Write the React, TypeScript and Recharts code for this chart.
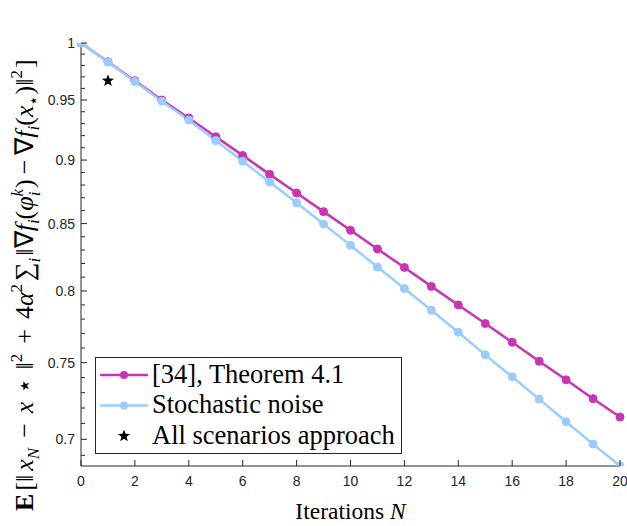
import React from 'react';
import { ComposedChart, Line, XAxis, YAxis } from 'recharts';

// iterations N on the x axis
const iterations = [0, 1, 2, 3, 4, 5, 6, 7, 8, 9, 10, 11, 12, 13, 14, 15, 16, 17, 18, 19, 20];
// [34], Theorem 4.1
const theoremBound = [
  1, 0.9833, 0.9666, 0.95, 0.9347, 0.9191, 0.9038, 0.8885, 0.8737, 0.8592, 0.8449,
  0.8308, 0.8171, 0.8033, 0.79, 0.7769, 0.7639, 0.751, 0.7385, 0.7261, 0.7142,
];
// stochastic noise
const stochasticNoise = [
  1, 0.983, 0.966, 0.949, 0.933, 0.9159, 0.899, 0.8824, 0.8661, 0.8497, 0.8335,
  0.8174, 0.8017, 0.7862, 0.7708, 0.7553, 0.7405, 0.7258, 0.7112, 0.697, 0.6834,
];
// all scenarios approach (single point)
const scenarioN = [1];
const scenarioValue = [0.9666];

const xTicks = [0, 2, 4, 6, 8, 10, 12, 14, 16, 18, 20];
const yMajorTicks = [0.7, 0.75, 0.8, 0.85, 0.9, 0.95, 1];
const yMinorTicks = [
  0.69, 0.71, 0.72, 0.73, 0.74, 0.76, 0.77, 0.78, 0.79, 0.81, 0.82, 0.83, 0.84,
  0.86, 0.87, 0.88, 0.89, 0.91, 0.92, 0.93, 0.94, 0.96, 0.97, 0.98, 0.99,
];
const yDomain = [0.6834, 1];

const MAGENTA = '#c834b4';
const BLUE = '#99ccff';
const AXIS = '#262626';

const data = iterations.map((n, i) => {
  const k = scenarioN.indexOf(n);
  return {
    n,
    theorem: theoremBound[i],
    noise: stochasticNoise[i],
    scenario: k >= 0 ? scenarioValue[k] : null,
  };
});

const allYTicks = [...yMajorTicks, ...yMinorTicks].sort((a, b) => a - b);
const isMajor = (v: number) => yMajorTicks.some(t => Math.abs(t - v) < 1e-9);

const starPath = (cx: number, cy: number, R: number, r: number) => {
  let d = '';
  for (let i = 0; i < 10; i++) {
    const rad = i % 2 === 0 ? R : r;
    const a = -Math.PI / 2 + (i * Math.PI) / 5;
    d += (i === 0 ? 'M' : 'L') + (cx + rad * Math.cos(a)).toFixed(2) + ',' + (cy + rad * Math.sin(a)).toFixed(2);
  }
  return d + 'Z';
};

const tickFont = { fontFamily: '"Liberation Sans", Arial, sans-serif', fontSize: 14, fill: AXIS };
const serif = "'Liberation Serif', serif";

const LeftTick = (props: any) => {
  const { x, y, payload } = props;
  const major = isMajor(payload.value);
  return (
    <g>
      <line x1={x} x2={x + (major ? 6 : 4)} y1={y} y2={y} stroke={AXIS} strokeWidth={1} />
      {major && (
        <text x={x - 6} y={y} dy={5} textAnchor="end" {...tickFont}>
          {String(payload.value)}
        </text>
      )}
    </g>
  );
};

const RightTick = (props: any) => {
  const { x, y, payload } = props;
  const major = isMajor(payload.value);
  return <line x1={x} x2={x - (major ? 6 : 4)} y1={y} y2={y} stroke={AXIS} strokeWidth={1} />;
};

const BottomTick = (props: any) => {
  const { x, y, payload } = props;
  return (
    <g>
      <line x1={x} x2={x} y1={y} y2={y - 6} stroke={AXIS} strokeWidth={1} />
      <text x={x} y={y + 20} textAnchor="middle" {...tickFont}>
        {String(payload.value)}
      </text>
    </g>
  );
};

const TopTick = (props: any) => {
  const { x, y } = props;
  return <line x1={x} x2={x} y1={y} y2={y + 6} stroke={AXIS} strokeWidth={1} />;
};

const StarDot = (props: any) => {
  const { cx, cy, payload, index } = props;
  if (payload.scenario == null || cx == null || cy == null) return <g key={index} />;
  return <path key={index} d={starPath(cx, cy, 6.5, 2.7)} fill="#000" />;
};

const SUB = 17;

const YLabel = () => (
  <svg width={60} height={526} style={{ position: 'absolute', left: 0, top: 0, overflow: 'visible' }}>
    <text transform="translate(33,511) rotate(-90)" fontFamily={serif} fontSize={26} fill="#000">
      <tspan fontWeight="bold">E</tspan>
      <tspan dx={3}>[‖</tspan>
      <tspan fontStyle="italic" dx={4}>x</tspan>
      <tspan fontStyle="italic" fontSize={SUB} dy={6}>N</tspan>
      <tspan dy={-6} dx={10}>−</tspan>
      <tspan fontStyle="italic" dx={10}>x</tspan>
      <tspan dx={8}>⋆</tspan>
      <tspan dx={8}>‖</tspan>
      <tspan fontSize={SUB} dy={-11}>2</tspan>
      <tspan dy={11} dx={10}>+</tspan>
      <tspan dx={10}>4</tspan>
      <tspan fontStyle="italic">α</tspan>
      <tspan fontSize={SUB} dy={-11}>2</tspan>
      <tspan dy={11} dx={3}>∑</tspan>
      <tspan fontStyle="italic" fontSize={SUB} dy={7}>i</tspan>
      <tspan dy={-7} dx={2}>‖∇</tspan>
      <tspan fontStyle="italic">f</tspan>
      <tspan fontStyle="italic" fontSize={SUB} dy={6}>i</tspan>
      <tspan dy={-6}>(</tspan>
      <tspan fontStyle="italic">φ</tspan>
      <tspan fontStyle="italic" fontSize={SUB} dy={7}>i</tspan>
      <tspan fontStyle="italic" fontSize={SUB} dy={-17} dx={-5}>k</tspan>
      <tspan dy={10} dx={1}>)</tspan>
      <tspan dx={5}>−</tspan>
      <tspan dx={5}>∇</tspan>
      <tspan fontStyle="italic">f</tspan>
      <tspan fontStyle="italic" fontSize={SUB} dy={6}>i</tspan>
      <tspan dy={-6}>(</tspan>
      <tspan fontStyle="italic">x</tspan>
      <tspan fontSize={SUB} dy={6}>⋆</tspan>
      <tspan dy={-6}>)‖</tspan>
      <tspan fontSize={SUB} dy={-11}>2</tspan>
      <tspan dy={11} dx={2}>]</tspan>
    </text>
  </svg>
);

const legendItems = [
  { label: '[34], Theorem 4.1', color: MAGENTA, kind: 'line' },
  { label: 'Stochastic noise', color: BLUE, kind: 'line' },
  { label: 'All scenarios approach', color: '#000', kind: 'star' },
];

const ChartLegend = () => (
  <svg width={627} height={526} style={{ position: 'absolute', left: 0, top: 0, pointerEvents: 'none' }}>
    <rect x={95.5} y={357.5} width={306} height={96} fill="#fff" stroke={AXIS} strokeWidth={1} />
    {legendItems.map((it, i) => {
      const cy = 375 + i * 30.5;
      return (
        <g key={it.label}>
          {it.kind === 'line' ? (
            <>
              <line x1={100} x2={148} y1={cy} y2={cy} stroke={it.color} strokeWidth={2.5} />
              <circle cx={124} cy={cy} r={4} fill={it.color} />
            </>
          ) : (
            <path d={starPath(124, cy, 6.5, 2.7)} fill="#000" />
          )}
          <text x={152} y={cy + 7.5} fontFamily={serif} fontSize={26.5} fill="#000">
            {it.label}
          </text>
        </g>
      );
    })}
  </svg>
);

export default function App() {
  return (
    <div style={{ position: 'absolute', left: 0, top: 0, width: 627, height: 526, background: '#fff', overflow: 'hidden' }}>
      <ComposedChart width={627} height={526} data={data} margin={{ top: 43, right: 7, bottom: 0, left: 0 }}>
        <XAxis
          xAxisId="bottom"
          dataKey="n"
          type="number"
          domain={[0, 20]}
          ticks={xTicks}
          interval={0}
          height={60}
          tickSize={0}
          tickMargin={0}
          tick={<BottomTick />}
          axisLine={{ stroke: AXIS }}
          tickLine={false}
          label={{
            content: () => (
              <text x={350.5} y={519} textAnchor="middle" fontFamily={serif} fontSize={23.5} fill="#000">
                Iterations <tspan fontStyle="italic">N</tspan>
              </text>
            ),
          }}
        />
        <XAxis
          xAxisId="top"
          orientation="top"
          dataKey="n"
          type="number"
          domain={[0, 20]}
          ticks={xTicks}
          interval={0}
          height={0}
          tickSize={0}
          tickMargin={0}
          tick={<TopTick />}
          axisLine={{ stroke: AXIS }}
          tickLine={false}
        />
        <YAxis
          yAxisId="left"
          type="number"
          scale="log"
          domain={yDomain}
          allowDataOverflow
          ticks={allYTicks}
          interval={0}
          width={81}
          tickSize={0}
          tickMargin={0}
          tick={<LeftTick />}
          axisLine={{ stroke: AXIS }}
          tickLine={false}
        />
        <YAxis
          yAxisId="right"
          orientation="right"
          type="number"
          scale="log"
          domain={yDomain}
          allowDataOverflow
          ticks={allYTicks}
          interval={0}
          width={0}
          tickSize={0}
          tickMargin={0}
          tick={<RightTick />}
          axisLine={{ stroke: AXIS }}
          tickLine={false}
        />
        <Line
          xAxisId="bottom"
          yAxisId="left"
          dataKey="theorem"
          stroke={MAGENTA}
          strokeWidth={2.5}
          dot={{ r: 4, fill: MAGENTA, stroke: MAGENTA, strokeWidth: 1 }}
          activeDot={false}
          isAnimationActive={false}
        />
        <Line
          xAxisId="bottom"
          yAxisId="left"
          dataKey="noise"
          stroke={BLUE}
          strokeWidth={2.5}
          dot={{ r: 4, fill: BLUE, stroke: BLUE, strokeWidth: 1 }}
          activeDot={false}
          isAnimationActive={false}
        />
        <Line
          xAxisId="bottom"
          yAxisId="left"
          dataKey="scenario"
          stroke="none"
          dot={<StarDot />}
          activeDot={false}
          connectNulls={false}
          isAnimationActive={false}
        />
      </ComposedChart>
      <YLabel />
      <ChartLegend />
    </div>
  );
}
